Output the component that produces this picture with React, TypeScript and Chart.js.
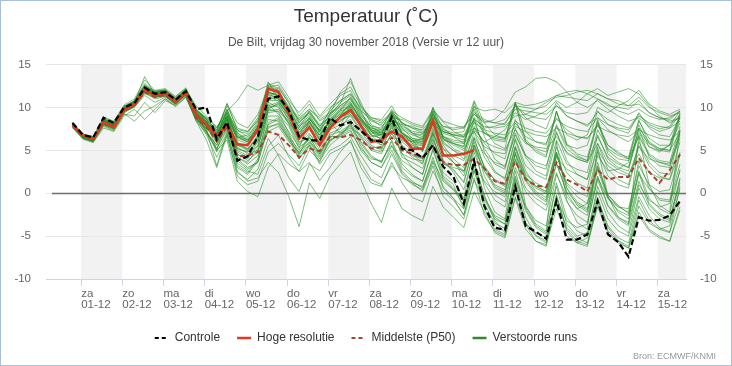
import React, { useEffect, useRef } from 'react';
import { Chart, registerables } from 'chart.js';

Chart.register(...registerables);

const TITLE = 'Temperatuur (˚C)';
const SUBTITLE = 'De Bilt, vrijdag 30 november 2018 (Versie vr 12 uur)';
const CREDIT = 'Bron: ECMWF/KNMI';

const DAY_NAMES = ['za', 'zo', 'ma', 'di', 'wo', 'do', 'vr', 'za', 'zo', 'ma', 'di', 'wo', 'do', 'vr', 'za'];
const DAY_DATES = ['01-12', '02-12', '03-12', '04-12', '05-12', '06-12', '07-12', '08-12', '09-12', '10-12', '11-12', '12-12', '13-12', '14-12', '15-12'];
const Y_MIN = -10;
const Y_MAX = 15;
const Y_STEP = 5;
// hours relative to 01-12 00:00 (local time); first run time and step
const FIRST_HOUR = -5;
const STEP_HOURS = 6;

const LEGEND_NAMES = ['Controle', 'Hoge resolutie', 'Middelste (P50)', 'Verstoorde runs'];

const CONTROL = [
  8.2, 6.8, 6.5, 8.8, 8.2, 10.0, 10.5, 12.3, 11.6, 11.8, 10.9, 11.9,
  9.8, 10.0, 6.3, 8.3, 3.8, 4.3, 6.6, 11.0,
  11.3, 9.7, 6.6, 6.2, 6.1, 8.8, 7.9, 8.3, 7.3, 6.2,
  6.0, 8.9, 5.2, 5.0, 4.1, 5.6, 3.1, 1.9, -1.2, 3.8,
  -1.5, -4.0, -4.3, 0.8, -3.8, -4.5, -5.3, -0.9, -5.4, -5.4,
  -4.8, -0.9, -4.8, -5.7, -7.4, -2.8, -3.2, -3.1, -2.6, -0.9,
];

const HRES = [
  7.9, 6.8, 6.3, 8.3, 7.7, 9.7, 10.4, 12.1, 11.4, 11.7, 10.7, 11.8,
  9.2, 8.0, 6.7, 8.0, 5.7, 5.6, 7.4, 12.2,
  11.8, 9.3, 6.4, 7.7, 5.6, 7.6, 8.9, 9.7, 7.9, 6.0,
  6.2, 7.2, 6.6, 5.2, 5.2, 8.5, 4.4, 4.4, 4.6, 5.0,
];

const P50 = [
  8.0, 6.6, 6.3, 8.2, 7.8, 9.8, 10.2, 11.8, 11.2, 11.5, 10.6, 11.6,
  8.8, 7.8, 6.0, 7.8, 4.3, 4.4, 4.8, 7.2,
  6.8, 5.6, 4.2, 5.2, 4.9, 6.6, 6.5, 6.8, 6.2, 5.2,
  5.4, 6.5, 5.0, 4.6, 4.2, 5.5, 3.6, 3.3, 3.3, 4.0,
  2.9, 1.4, 1.1, 3.7, 1.6, 0.9, 0.7, 3.6, 1.6, 1.0,
  0.2, 2.7, 1.6, 1.9, 1.9, 4.1, 2.5, 1.2, 2.7, 4.5,
];

const M01 = [8.1, 6.6, 6.2, 8.6, 8.0, 9.9, 10.6, 12.6, 11.8, 11.9, 11.0, 12.0, 9.5, 8.4, 6.0, 8.1, 4.5, 4.0, 5.5, 9.8, 10.5, 8.6, 6.0, 6.4, 5.5, 8.2, 7.0, 7.6, 6.8, 5.4, 5.2, 8.0, 4.2, 3.6, 2.9, 5.9, 2.0, 1.0, -1.8, 3.4, -1.2, -3.5, -4.1, 1.5, -2.8, -4.9, -5.6, -0.3, -4.5, -5.8, -5.2, -0.5, -4.0, -5.5, -6.2, -1.5, -3.5, -4.2, -3.8, 0.5];
const M02 = [7.8, 6.9, 6.5, 8.1, 7.6, 9.4, 10.1, 11.6, 11.2, 11.3, 10.4, 11.5, 8.8, 7.6, 6.5, 8.6, 6.5, 6.8, 8.0, 11.0, 12.4, 10.5, 8.2, 9.6, 8.0, 8.8, 10.2, 11.1, 9.0, 7.8, 7.6, 9.5, 8.3, 7.0, 6.6, 9.0, 7.2, 6.8, 6.5, 8.6, 7.0, 6.2, 6.0, 10.4, 8.8, 8.0, 7.5, 10.6, 9.0, 8.4, 7.8, 9.5, 8.6, 8.0, 7.6, 9.2, 8.0, 7.5, 7.8, 9.6];
const M03 = [8.3, 6.4, 6.0, 8.9, 8.4, 10.3, 11.0, 13.2, 12.0, 12.2, 11.3, 12.3, 9.8, 8.6, 5.0, 8.8, 3.5, 2.6, 2.2, 5.5, 6.8, 4.2, 2.5, 3.6, 1.5, 3.0, 4.8, 6.2, 3.0, 1.2, 0.8, 3.6, 1.2, -0.5, -1.0, 2.6, 0.2, -0.8, -2.5, 1.5, -0.8, -3.0, -3.6, 2.0, -2.0, -4.0, -4.8, 0.8, -3.6, -5.0, -4.6, 0.2, -3.0, -4.4, -5.0, -0.4, -2.6, -4.0, -4.5, -1.0];
const M04 = [7.6, 6.3, 5.9, 7.6, 7.2, 9.0, 9.8, 8.6, 9.8, 11.0, 10.1, 11.2, 8.6, 7.4, 4.8, 7.0, 3.0, 2.2, 3.8, 9.8, 9.5, 7.0, 4.6, 6.5, 4.6, 7.0, 7.5, 9.2, 8.0, 6.4, 6.0, 9.5, 7.0, 5.8, 5.5, 10.0, 6.4, 5.8, 5.5, 9.8, 6.6, 4.0, 3.0, 7.0, 4.2, 2.6, 2.0, 7.2, 3.8, 2.2, 1.6, 6.8, 4.0, 3.0, 2.6, 7.6, 6.0, 5.2, 5.0, 9.2];
const M05 = [8.0, 6.7, 6.4, 8.4, 7.9, 9.8, 10.5, 13.6, 11.5, 11.6, 10.6, 11.6, 9.2, 8.2, 7.2, 10.5, 7.4, 6.6, 8.3, 13.0, 11.0, 9.6, 8.0, 9.0, 7.2, 9.3, 10.4, 13.4, 10.2, 8.6, 7.8, 8.8, 8.6, 8.0, 7.6, 9.6, 8.3, 7.2, 6.6, 9.2, 8.2, 8.6, 9.8, 11.8, 12.4, 13.4, 13.5, 13.0, 11.8, 10.6, 10.0, 10.8, 9.8, 9.0, 8.4, 8.8, 7.8, 7.2, 7.6, 8.4];
const M06 = [7.7, 6.6, 6.1, 8.0, 7.5, 9.5, 10.2, 11.9, 11.3, 11.5, 10.5, 11.4, 8.4, 6.2, 3.0, 6.8, 2.0, 1.0, 1.4, 4.8, 5.8, 4.5, 3.2, 5.6, 4.0, 6.0, 7.0, 7.8, 5.5, 3.6, 3.0, 5.5, 3.8, 3.0, 2.2, 6.2, 3.5, 2.8, 1.2, 5.6, 3.2, 1.5, 0.8, 5.5, 2.0, 0.2, -0.5, 4.6, 0.6, -1.4, -2.2, 2.8, -0.6, -2.0, -2.6, 2.2, 0.5, -0.8, -1.0, 3.4];
const M07 = [8.2, 6.9, 6.6, 8.8, 8.2, 10.0, 10.8, 12.8, 11.9, 12.1, 11.0, 12.1, 10.2, 9.0, 7.6, 9.8, 6.0, 5.0, 6.8, 11.2, 10.8, 8.8, 7.0, 8.4, 6.8, 8.5, 9.6, 10.0, 7.6, 6.6, 6.8, 8.2, 5.6, 4.6, 3.5, 7.0, 3.8, 2.4, 0.4, 4.8, 1.2, -0.8, -1.6, 3.0, 0.2, -1.2, -2.0, 2.4, -1.0, -2.6, -3.4, 1.6, -1.5, -3.0, -3.8, 1.0, -0.8, -1.6, -1.2, 2.6];
const M08 = [7.9, 6.5, 6.2, 8.2, 7.7, 9.6, 10.0, 11.4, 10.6, 11.2, 10.4, 11.6, 9.0, 7.8, 6.8, 9.6, 10.8, 12.6, 12.0, 12.6, 13.0, 11.2, 9.0, 10.4, 8.4, 9.2, 11.8, 13.0, 10.6, 8.0, 7.4, 9.8, 7.6, 6.4, 6.0, 9.4, 6.6, 5.8, 5.4, 10.2, 7.0, 6.4, 6.2, 10.6, 7.2, 6.0, 5.6, 9.4, 6.8, 6.2, 6.8, 10.0, 9.4, 10.2, 10.8, 12.0, 10.4, 9.6, 9.2, 9.8];
const M09 = [8.0, 6.8, 6.4, 8.5, 8.0, 10.0, 10.4, 12.0, 11.6, 11.8, 10.8, 11.9, 9.6, 8.8, 7.8, 9.0, 5.4, 4.6, 5.0, 8.6, 8.4, 6.4, 4.6, 6.8, 6.0, 8.0, 8.4, 9.4, 8.8, 7.4, 7.0, 8.6, 8.0, 7.8, 7.2, 8.4, 7.6, 6.6, 5.8, 7.2, 5.4, 4.8, 4.6, 8.2, 6.6, 6.0, 5.8, 8.8, 7.4, 6.6, 6.4, 8.0, 5.6, 4.8, 4.0, 6.6, 4.4, 3.6, 3.2, 6.4];
const M10 = [8.1, 6.7, 6.3, 8.4, 7.8, 9.7, 10.3, 12.2, 11.5, 11.7, 10.8, 11.8, 9.0, 7.4, 3.2, 7.2, 2.6, 1.4, 1.8, 3.6, 2.4, -0.4, -3.9, 1.2, -0.6, 2.0, 3.4, 4.8, 1.6, -1.2, -3.4, 0.6, -1.8, -2.6, -3.2, 0.8, -1.6, -2.8, -4.0, 0.2, -2.2, -4.6, -5.2, -0.6, -4.2, -5.6, -6.0, -1.8, -5.0, -5.8, -6.2, -1.2, -4.4, -5.6, -6.4, -2.2, -4.2, -5.0, -5.6, -1.6];
const M11 = [7.8, 6.5, 6.1, 8.0, 7.6, 9.6, 10.2, 12.0, 11.2, 11.4, 10.4, 11.6, 9.0, 7.2, 5.6, 8.6, 5.8, 5.2, 6.4, 10.4, 9.2, 7.8, 5.2, 8.6, 7.4, 9.8, 11.4, 12.0, 9.6, 7.2, 6.2, 9.2, 7.0, 6.2, 4.8, 8.8, 5.6, 4.0, 3.0, 7.2, 4.2, 2.4, 1.8, 6.4, 3.2, 2.2, 1.6, 6.2, 3.4, 2.8, 2.4, 7.4, 5.2, 4.4, 4.0, 8.4, 6.4, 5.6, 5.6, 9.0];
const M12 = [8.2, 6.8, 6.3, 8.4, 7.9, 9.9, 10.6, 12.4, 11.7, 11.9, 10.9, 12.0, 9.4, 8.0, 6.6, 9.2, 6.8, 6.2, 7.6, 12.6, 12.0, 10.0, 7.6, 9.6, 7.8, 9.0, 10.6, 11.4, 9.4, 7.8, 7.0, 9.0, 7.2, 6.0, 6.4, 10.0, 7.4, 7.0, 7.2, 10.8, 8.2, 6.8, 6.4, 10.6, 6.2, 5.2, 4.8, 9.6, 5.8, 4.6, 4.2, 8.6, 5.0, 4.0, 3.8, 8.0, 5.4, 4.8, 5.6, 9.4];
const M13 = [7.9, 6.6, 6.2, 8.1, 7.7, 9.7, 10.3, 12.1, 11.4, 11.6, 10.6, 11.7, 8.8, 7.0, 5.2, 7.4, 4.2, 3.6, 5.2, 10.0, 10.2, 8.0, 5.6, 7.0, 5.0, 7.4, 8.0, 8.6, 6.6, 5.0, 4.6, 7.0, 4.6, 4.0, 3.8, 6.4, 3.4, 3.0, 2.6, 5.2, 2.6, 1.0, 0.4, 4.6, 1.8, 0.8, 0.2, 5.4, 2.4, 1.2, 0.6, 5.8, 2.8, 1.6, 1.0, 6.0, 3.6, 2.4, 2.2, 7.2];
const M14 = [8.0, 6.6, 6.3, 8.3, 7.8, 9.8, 10.4, 12.2, 11.4, 11.7, 10.7, 11.8, 9.2, 8.0, 6.2, 8.2, 4.8, 4.2, 6.0, 10.6, 10.0, 8.2, 5.8, 7.4, 5.8, 8.0, 8.6, 9.0, 7.2, 5.6, 5.0, 7.8, 4.6, 3.0, 2.2, 6.8, 2.4, 1.4, -0.6, 5.6, 0.6, -2.2, -3.0, 4.8, -1.4, -3.6, -4.4, 6.0, -0.8, -3.4, -4.2, 5.4, -0.4, -2.8, -3.6, 6.6, 1.0, -1.4, -2.2, 7.4];
const M15 = [7.9, 6.7, 6.4, 8.2, 7.7, 9.6, 10.3, 12.0, 11.5, 11.6, 10.7, 11.7, 9.0, 7.8, 7.0, 9.4, 7.2, 7.0, 8.6, 11.8, 11.4, 10.0, 8.6, 9.4, 7.6, 8.6, 9.8, 10.6, 8.6, 7.4, 7.2, 8.4, 7.0, 6.2, 5.8, 8.0, 6.4, 5.6, 5.0, 7.4, 6.0, 6.6, 7.4, 9.4, 8.6, 9.0, 9.6, 10.8, 10.0, 10.6, 11.6, 12.2, 11.4, 11.8, 12.2, 11.6, 10.2, 9.0, 8.2, 8.8];
const M16 = [8.1, 6.8, 6.4, 8.6, 8.1, 10.1, 10.7, 12.5, 11.6, 11.8, 10.9, 12.0, 9.8, 8.4, 6.0, 7.6, 3.2, 2.4, 4.0, 8.2, 8.8, 6.8, 4.0, 5.8, 3.6, 6.4, 7.8, 10.4, 8.8, 6.8, 5.6, 8.6, 6.2, 5.6, 5.0, 8.2, 5.2, 3.6, 2.0, 6.4, 3.0, 0.8, 0.2, 5.2, 1.6, 0.0, -0.8, 4.4, 1.2, 0.2, -0.4, 4.8, 2.0, 1.0, 0.6, 5.6, 3.2, 2.0, 1.6, 6.0];
const M17 = [7.7, 6.4, 6.0, 7.9, 7.4, 9.3, 8.4, 9.6, 10.2, 11.0, 10.3, 11.3, 8.6, 7.6, 6.4, 9.0, 6.6, 6.0, 7.8, 11.6, 11.0, 9.0, 6.8, 8.4, 6.4, 7.8, 9.0, 10.0, 8.0, 6.8, 6.4, 8.4, 6.0, 5.0, 4.0, 7.4, 4.6, 3.6, 2.6, 6.4, 3.0, 1.6, 1.0, 5.4, 2.2, 1.2, 0.6, 4.8, 1.0, -0.4, -1.2, 3.0, -0.2, -1.4, -2.4, 2.6, -0.6, -1.8, -2.4, 2.8];
const M18 = [8.0, 6.7, 6.3, 8.3, 7.8, 9.8, 10.4, 12.1, 11.4, 11.6, 10.7, 11.8, 9.1, 7.9, 6.8, 8.9, 6.2, 5.8, 7.2, 11.6, 11.6, 9.4, 7.4, 8.8, 6.6, 8.4, 9.6, 11.2, 9.2, 7.6, 7.2, 9.0, 7.6, 7.0, 6.8, 9.2, 7.8, 7.4, 7.6, 10.0, 9.6, 9.8, 9.4, 10.6, 10.2, 10.4, 10.8, 11.4, 11.8, 12.0, 11.6, 11.0, 10.4, 9.6, 9.2, 9.8, 9.0, 8.6, 8.8, 9.6];
const M19 = [8.2, 6.9, 6.5, 8.7, 8.1, 10.0, 10.6, 12.4, 11.7, 11.9, 10.9, 12.0, 9.4, 8.2, 6.4, 8.4, 5.0, 4.4, 5.6, 9.0, 9.0, 7.2, 5.4, 6.2, 4.4, 6.8, 7.2, 8.0, 5.8, 4.2, 3.6, 6.0, 3.0, 2.0, 1.4, 5.0, 1.6, 0.4, -1.4, 3.6, -0.4, -2.8, -3.6, 2.6, -1.8, -3.8, -4.6, 1.2, -2.8, -4.4, -5.0, 0.8, -2.2, -3.8, -4.6, 0.6, -1.8, -3.0, -3.4, 1.8];
const M20 = [7.8, 6.6, 6.2, 8.1, 7.6, 9.5, 10.2, 11.8, 11.2, 11.4, 10.5, 11.5, 8.8, 7.6, 6.2, 8.0, 5.6, 5.2, 6.6, 9.6, 9.8, 8.4, 6.8, 8.0, 6.8, 8.2, 8.8, 9.6, 8.2, 7.0, 6.8, 8.2, 6.6, 5.6, 5.0, 7.6, 5.2, 4.4, 3.8, 6.6, 4.6, 3.6, 3.2, 6.8, 4.4, 3.6, 3.2, 7.0, 4.6, 4.0, 3.6, 6.6, 4.2, 3.4, 3.0, 6.8, 4.6, 3.8, 3.6, 7.8];
const M21 = [8.0, 6.6, 6.2, 8.4, 7.9, 9.8, 10.4, 12.2, 11.5, 11.7, 10.7, 11.8, 9.6, 8.6, 7.0, 8.6, 4.2, 3.4, 4.4, 7.2, 7.8, 6.0, 4.8, 6.0, 4.8, 6.6, 6.6, 7.2, 5.2, 4.0, 3.8, 5.6, 2.6, 1.4, 0.6, 4.2, 0.8, -0.6, -2.6, 2.8, -1.8, -4.2, -4.8, 0.6, -3.4, -5.0, -5.8, -0.2, -4.2, -5.6, -6.0, -0.8, -3.8, -5.2, -5.8, -0.8, -3.2, -4.2, -4.6, 0.8];
const M22 = [7.9, 6.5, 6.1, 8.2, 7.7, 9.7, 10.3, 12.0, 11.3, 11.5, 10.6, 11.7, 9.0, 7.8, 6.6, 9.8, 7.0, 6.4, 8.0, 12.8, 12.2, 10.6, 8.4, 9.2, 7.2, 8.2, 9.2, 10.4, 8.6, 7.2, 6.6, 8.6, 6.8, 5.8, 5.0, 8.2, 5.8, 5.0, 4.0, 7.8, 5.8, 4.6, 4.0, 8.6, 6.0, 5.0, 4.4, 8.0, 5.6, 5.2, 5.6, 9.6, 8.0, 7.4, 7.0, 9.4, 7.6, 6.8, 6.6, 8.8];
const M23 = [8.1, 6.7, 6.3, 8.5, 8.0, 9.9, 10.5, 12.3, 11.6, 11.8, 10.8, 11.9, 9.2, 7.2, 5.0, 6.2, 1.4, 0.2, -0.4, 3.0, 4.6, 3.4, 2.6, 5.0, 3.8, 5.6, 6.6, 8.2, 6.4, 5.2, 4.8, 7.0, 5.4, 4.4, 4.0, 7.0, 4.6, 3.6, 2.4, 6.0, 2.0, -0.2, -1.0, 4.0, 0.6, -0.6, -1.4, 3.4, 0.2, -1.2, -2.0, 3.2, -0.2, -1.6, -2.2, 3.8, 0.6, -0.6, -0.8, 4.6];
const M24 = [8.0, 6.8, 6.5, 8.4, 7.9, 9.8, 10.4, 12.2, 11.5, 11.7, 10.7, 11.8, 9.3, 8.2, 7.4, 10.2, 7.6, 7.2, 8.8, 12.4, 12.0, 9.8, 8.2, 9.4, 7.8, 9.6, 10.8, 11.6, 9.8, 8.4, 8.0, 9.6, 8.8, 8.2, 7.8, 9.8, 8.4, 8.0, 7.6, 9.4, 8.6, 8.2, 8.0, 10.2, 9.2, 8.8, 8.6, 10.2, 9.4, 9.2, 9.4, 11.0, 10.2, 10.0, 9.8, 10.8, 9.4, 8.8, 8.6, 9.6];
const M25 = [8.0, 6.7, 6.2, 8.3, 7.9, 9.9, 10.6, 12.4, 11.8, 12.0, 11.2, 12.2, 9.6, 8.6, 7.4, 9.4, 7.0, 6.2, 7.0, 10.2, 10.6, 9.2, 7.8, 8.6, 7.4, 8.2, 8.8, 9.4, 8.4, 7.6, 7.4, 8.6, 7.8, 7.2, 7.0, 8.0, 7.2, 6.8, 6.6, 7.6, 7.0, 6.6, 6.4, 7.8, 7.2, 6.8, 6.6, 7.6, 7.0, 6.6, 6.4, 7.8, 7.2, 6.8, 6.6, 7.4, 6.8, 6.4, 6.2, 7.2];
const M26 = [7.8, 6.5, 6.0, 8.0, 7.5, 9.4, 10.1, 11.7, 11.0, 11.3, 10.4, 11.5, 8.8, 7.2, 5.2, 7.6, 3.8, 2.8, 3.6, 7.6, 8.2, 6.2, 4.0, 5.6, 3.4, 5.0, 5.6, 6.6, 4.4, 2.6, 1.8, 4.6, 2.2, 1.0, 0.4, 3.6, 0.6, -0.6, -1.8, 2.6, -0.6, -2.6, -3.2, 1.8, -1.6, -3.2, -3.8, 2.2, -0.4, -1.8, -1.2, 4.4, 2.6, 2.8, 3.6, 7.0, 5.4, 5.0, 5.6, 8.2];
const M27 = [8.2, 6.8, 6.4, 8.6, 8.1, 10.1, 10.8, 12.6, 11.9, 12.0, 11.1, 12.1, 9.8, 8.8, 7.2, 10.4, 8.2, 7.6, 9.2, 12.4, 12.6, 10.8, 9.4, 10.8, 9.0, 10.4, 11.6, 12.4, 10.2, 8.8, 8.6, 10.2, 8.0, 7.0, 6.2, 9.4, 6.4, 5.2, 4.6, 8.8, 4.8, 2.6, 1.6, 6.2, 2.6, 0.8, 0.2, 4.8, 0.6, -1.0, -1.8, 3.6, -0.4, -2.2, -3.0, 2.4, -1.2, -2.4, -3.0, 1.6];
const M28 = [7.9, 6.6, 6.2, 8.2, 7.7, 9.7, 10.2, 11.9, 11.3, 11.5, 10.5, 11.6, 8.6, 6.8, 4.2, 6.6, 2.4, 1.6, 2.8, 6.4, 4.4, 1.8, 0.2, 3.4, 2.6, 4.6, 5.2, 6.0, 3.6, 1.6, 1.0, 3.2, 1.8, 1.2, 0.8, 3.8, 1.4, 0.4, -0.8, 3.2, 1.4, 0.2, -0.4, 3.8, 1.8, 0.6, 0.0, 4.2, 2.8, 2.2, 1.6, 5.0, 3.2, 2.4, 2.0, 5.4, 4.0, 3.6, 3.4, 6.8];
const M29 = [8.1, 6.8, 6.4, 8.5, 8.0, 10.0, 10.7, 12.4, 11.7, 11.8, 10.9, 12.0, 9.4, 8.4, 7.6, 9.6, 7.4, 7.2, 8.4, 11.4, 11.2, 9.8, 8.6, 9.8, 8.6, 9.4, 10.0, 10.8, 9.6, 8.6, 8.2, 9.2, 8.2, 7.6, 7.4, 8.8, 7.8, 7.6, 7.8, 9.2, 8.4, 8.2, 8.6, 10.2, 10.0, 9.8, 10.2, 11.4, 11.2, 11.0, 10.8, 11.6, 11.0, 10.4, 10.2, 11.2, 10.0, 9.4, 9.0, 9.4];
const M30 = [7.7, 6.4, 6.1, 7.8, 7.3, 9.2, 9.0, 10.6, 9.4, 10.8, 10.2, 11.2, 8.4, 7.0, 5.6, 7.8, 5.2, 4.8, 6.2, 10.0, 10.4, 8.6, 6.2, 7.8, 6.2, 8.6, 9.8, 10.2, 8.0, 6.2, 5.6, 8.2, 5.4, 4.2, 3.4, 7.2, 3.8, 2.6, 1.4, 5.6, 2.6, 0.6, 0.0, 4.6, 1.4, -0.2, -1.0, 3.6, 0.0, -1.8, -2.6, 2.0, -1.4, -2.8, -3.4, 1.4, -1.4, -2.6, -3.2, 1.2];
const M31 = [8.0, 6.6, 6.3, 8.4, 7.8, 9.8, 10.5, 12.2, 11.6, 11.7, 10.8, 11.8, 9.3, 8.1, 6.9, 9.1, 6.4, 6.0, 7.8, 12.0, 11.8, 10.2, 8.8, 9.8, 8.8, 10.0, 10.8, 11.6, 10.0, 8.8, 8.4, 9.4, 8.2, 7.6, 7.0, 8.6, 7.2, 6.8, 6.8, 8.6, 7.8, 7.6, 7.8, 9.0, 9.2, 9.8, 10.6, 11.2, 11.4, 11.8, 12.0, 11.6, 11.0, 10.8, 10.2, 10.4, 9.4, 8.8, 8.4, 8.8];
const M32 = [8.2, 6.9, 6.6, 8.7, 8.2, 10.2, 10.7, 12.5, 11.8, 12.0, 11.0, 12.1, 9.7, 8.7, 6.8, 8.8, 4.6, 3.8, 4.8, 8.0, 8.6, 6.6, 5.0, 6.6, 4.6, 6.2, 6.8, 7.4, 5.0, 3.6, 3.0, 5.0, 2.4, 1.2, 0.2, 3.2, -0.4, -1.6, -3.0, 1.8, -2.6, -4.4, -5.0, -0.4, -3.6, -4.6, -5.2, -1.0, -4.0, -5.2, -5.8, -1.6, -4.6, -5.8, -6.4, -2.6, -4.4, -5.2, -5.6, -2.0];
const M33 = [7.9, 6.6, 6.3, 8.3, 7.8, 9.7, 10.4, 12.1, 11.5, 11.6, 10.7, 11.7, 9.1, 7.9, 6.5, 8.5, 5.8, 5.6, 7.2, 11.2, 11.0, 9.4, 7.4, 8.4, 6.2, 7.6, 8.4, 9.2, 7.4, 6.2, 6.0, 7.6, 6.4, 6.0, 5.8, 7.8, 6.2, 5.8, 5.2, 7.6, 6.0, 5.4, 5.0, 7.4, 5.8, 5.4, 5.2, 6.6, 4.8, 4.0, 3.6, 5.8, 3.6, 2.8, 2.2, 4.6, 2.4, 1.8, 1.6, 4.8];
const M34 = [8.1, 6.7, 6.2, 8.4, 7.9, 9.9, 10.5, 12.3, 11.6, 11.7, 10.8, 11.9, 9.4, 8.2, 6.9, 8.7, 5.6, 5.0, 6.6, 10.8, 10.8, 9.0, 7.2, 8.2, 6.2, 8.0, 9.0, 10.6, 8.4, 6.8, 6.4, 8.8, 6.8, 6.0, 5.6, 9.2, 6.0, 5.0, 4.4, 8.4, 5.2, 3.4, 2.8, 7.6, 4.4, 3.2, 2.8, 7.8, 5.2, 4.2, 3.8, 8.2, 5.6, 4.6, 4.2, 8.6, 5.8, 5.0, 4.8, 8.8];
const M35 = [8.0, 6.6, 6.2, 8.5, 8.0, 9.9, 10.5, 12.2, 11.5, 11.7, 10.8, 11.8, 9.4, 8.4, 6.6, 8.0, 4.0, 3.0, 3.6, 7.8, 8.0, 6.4, 4.4, 6.0, 4.2, 6.2, 6.8, 8.0, 6.0, 4.4, 3.6, 6.2, 3.4, 2.2, 1.4, 5.2, 1.8, 0.6, -1.0, 3.6, -0.2, -3.2, -4.6, 0.8, -3.6, -5.6, -6.2, -0.6, -3.2, -4.0, -3.6, 1.8, -0.6, -1.6, -1.8, 3.2, 1.0, 0.2, 0.4, 4.6];
const M36 = [7.8, 6.5, 6.1, 8.1, 7.6, 9.6, 10.2, 11.9, 11.3, 11.5, 10.6, 11.6, 9.0, 7.6, 6.0, 8.0, 5.2, 4.8, 6.0, 9.4, 9.6, 8.2, 6.6, 8.2, 6.8, 8.4, 9.2, 9.8, 8.4, 7.2, 7.0, 8.8, 7.4, 6.8, 6.4, 8.6, 7.0, 6.6, 6.2, 8.2, 7.4, 7.0, 6.8, 8.4, 7.6, 7.2, 7.0, 8.6, 7.8, 7.4, 7.2, 8.8, 8.0, 7.6, 7.4, 9.0, 8.2, 7.8, 7.6, 9.2];
const M37 = [8.1, 6.8, 6.5, 8.6, 8.1, 10.0, 10.6, 12.4, 11.7, 11.9, 10.9, 12.0, 9.5, 8.3, 7.0, 9.4, 6.6, 6.0, 7.6, 11.8, 11.2, 9.2, 7.0, 8.8, 7.2, 9.2, 10.2, 11.0, 8.8, 7.4, 6.8, 9.4, 7.0, 6.2, 6.0, 9.6, 6.6, 6.0, 5.8, 10.6, 7.4, 5.8, 5.2, 10.4, 6.0, 4.8, 4.2, 9.6, 5.6, 4.4, 3.8, 8.4, 4.6, 3.6, 3.0, 7.6, 4.2, 3.2, 3.0, 7.4];
const M38 = [7.9, 6.7, 6.3, 8.2, 7.7, 9.6, 10.3, 12.0, 11.4, 11.6, 10.6, 11.7, 9.0, 7.9, 6.7, 9.0, 6.6, 6.2, 7.8, 11.8, 11.4, 9.6, 7.8, 8.8, 7.0, 8.4, 9.4, 10.2, 8.6, 7.2, 6.8, 8.2, 7.0, 6.4, 6.2, 8.4, 6.6, 6.2, 6.0, 8.8, 7.6, 7.8, 8.2, 9.8, 9.6, 9.4, 9.2, 10.2, 9.0, 8.4, 8.0, 8.8, 7.4, 6.6, 6.0, 7.2, 5.8, 5.2, 5.0, 7.0];

const MEMBERS = [M01, M02, M03, M04, M05, M06, M07, M08, M09, M10, M11, M12, M13, M14, M15, M16, M17, M18, M19, M20, M21, M22, M23, M24, M25, M26, M27, M28, M29, M30, M31, M32, M33, M34, M35, M36, M37, M38];

const FONT = '"Liberation Sans", Arial, sans-serif';

const COLORS = {
  control: '#000000',
  hres: '#dc3a22',
  p50: '#a64434',
  member: 'rgba(36, 142, 36, 0.58)',
  memberLegend: '#2e8b2e',
  band: '#f2f2f2',
  grid: '#e6e6e6',
  axis: '#ccd6eb',
  zero: '#6e6e6e',
  text: '#666666',
  title: '#333333',
  frame: '#a9c0da',
};

const timeOf = (i: number) => FIRST_HOUR + STEP_HOURS * i;
const toPoints = (arr: number[]) => arr.map((v, i) => ({ x: timeOf(i), y: v }));

const bandsPlugin = {
  id: 'dayBands',
  beforeDraw(chart: any) {
    const { ctx, chartArea, scales } = chart;
    const xs = scales.x;
    ctx.save();
    ctx.fillStyle = COLORS.band;
    for (let d = 0; d < DAY_DATES.length; d += 2) {
      const x0 = Math.max(xs.getPixelForValue(d * 24), chartArea.left);
      const x1 = Math.min(xs.getPixelForValue((d + 1) * 24), chartArea.right);
      if (x1 > x0) ctx.fillRect(x0, chartArea.top, x1 - x0, chartArea.bottom - chartArea.top);
    }
    ctx.restore();
  },
  beforeDatasetsDraw(chart: any) {
    const { ctx, chartArea, scales } = chart;
    const y0 = Math.round(scales.y.getPixelForValue(0)) + 0.5;
    ctx.save();
    ctx.strokeStyle = COLORS.zero;
    ctx.lineWidth = 1.5;
    ctx.beginPath();
    ctx.moveTo(chartArea.left + 6, y0);
    ctx.lineTo(chartArea.right, y0);
    ctx.stroke();
    ctx.restore();
  },
  afterDraw(chart: any) {
    const { ctx, width, height } = chart;
    ctx.save();
    ctx.font = `9px ${FONT}`;
    ctx.fillStyle = '#999999';
    ctx.textAlign = 'right';
    ctx.textBaseline = 'middle';
    ctx.fillText(CREDIT, width - 16, height - 9);
    ctx.strokeStyle = COLORS.frame;
    ctx.lineWidth = 1;
    ctx.strokeRect(0.5, 0.5, width - 1, height - 1);
    ctx.restore();
  },
};

export default function App() {
  const ref = useRef<HTMLCanvasElement | null>(null);

  useEffect(() => {
    document.body.style.margin = '0';
    const canvas = ref.current;
    if (!canvas) return;

    const datasets: any[] = [
      {
        label: LEGEND_NAMES[0],
        data: toPoints(CONTROL),
        borderColor: COLORS.control,
        borderWidth: 2.2,
        borderDash: [6, 3],
      },
      {
        label: LEGEND_NAMES[1],
        data: toPoints(HRES),
        borderColor: COLORS.hres,
        borderWidth: 2.6,
      },
      {
        label: LEGEND_NAMES[2],
        data: toPoints(P50),
        borderColor: COLORS.p50,
        borderWidth: 2,
        borderDash: [5, 3],
      },
      ...MEMBERS.map((m, k) => ({
        label: `${LEGEND_NAMES[3]} ${k + 1}`,
        data: toPoints(m),
        borderColor: COLORS.member,
        borderWidth: 1,
      })),
    ];

    const chart = new Chart(canvas, {
      type: 'line',
      data: { datasets },
      plugins: [bandsPlugin],
      options: {
        animation: false,
        responsive: false,
        devicePixelRatio: 1,
        layout: { padding: { top: 0, left: 0, right: 0, bottom: 12 } },
        elements: {
          point: { radius: 0, hoverRadius: 0 },
          line: { tension: 0, fill: false },
        },
        font: { family: FONT, size: 12 },
        plugins: {
          tooltip: { enabled: false },
          title: {
            display: true,
            text: TITLE,
            color: COLORS.title,
            font: { size: 19, weight: 'normal', family: FONT },
            padding: { top: 5.6, bottom: 0 },
          },
          subtitle: {
            display: true,
            text: SUBTITLE,
            color: '#555555',
            font: { size: 12, family: FONT },
            padding: { top: 7.4, bottom: 14.4 },
          },
          legend: {
            position: 'bottom',
            labels: {
              usePointStyle: true,
              pointStyleWidth: 14,
              padding: 17,
              color: '#333333',
              font: { size: 12, family: FONT },
              generateLabels: () => [
                { text: LEGEND_NAMES[0], strokeStyle: COLORS.control, fillStyle: COLORS.control, lineWidth: 2, lineDash: [4, 3], pointStyle: 'line', hidden: false, datasetIndex: 0, fontColor: '#333333' },
                { text: LEGEND_NAMES[1], strokeStyle: COLORS.hres, fillStyle: COLORS.hres, lineWidth: 2.5, lineDash: [], pointStyle: 'line', hidden: false, datasetIndex: 1, fontColor: '#333333' },
                { text: LEGEND_NAMES[2], strokeStyle: COLORS.p50, fillStyle: COLORS.p50, lineWidth: 2, lineDash: [4, 3], pointStyle: 'line', hidden: false, datasetIndex: 2, fontColor: '#333333' },
                { text: LEGEND_NAMES[3], strokeStyle: COLORS.memberLegend, fillStyle: COLORS.memberLegend, lineWidth: 2.5, lineDash: [], pointStyle: 'line', hidden: false, datasetIndex: 3, fontColor: '#333333' },
              ],
            },
          },
        },
        scales: {
          x: {
            type: 'linear',
            min: -20.5,
            max: 352.5,
            afterBuildTicks: (scale: any) => {
              scale.ticks = DAY_DATES.map((_, d) => ({ value: d * 24 }));
            },
            afterFit: (scale: any) => {
              scale.height = 36;
              scale._computeLabelArea = () => undefined;
            },
            grid: { drawOnChartArea: false, drawTicks: true, tickLength: 7, color: COLORS.axis },
            border: { color: COLORS.axis },
            ticks: {
              autoSkip: false,
              maxRotation: 0,
              align: 'start',
              padding: 2,
              color: COLORS.text,
              font: { size: 11.5, lineHeight: 1.0 },
              callback: (_v: any, i: number) => [DAY_NAMES[i], DAY_DATES[i]],
            },
          },
          y: {
            position: 'left',
            min: Y_MIN,
            max: Y_MAX,
            afterFit: (scale: any) => {
              scale.width = 46;
            },
            grid: {
              drawTicks: false,
              color: (c: any) => (c.tick && c.tick.value === Y_MIN ? COLORS.axis : COLORS.grid),
            },
            border: { display: false },
            ticks: { stepSize: Y_STEP, padding: 15, color: COLORS.text, font: { size: 11.5 } },
          },
          y2: {
            position: 'right',
            min: Y_MIN,
            max: Y_MAX,
            afterFit: (scale: any) => {
              scale.width = 46;
            },
            grid: { display: false, drawTicks: false },
            border: { display: false },
            ticks: { stepSize: Y_STEP, padding: 14, color: COLORS.text, font: { size: 11.5 } },
          },
        },
      },
    } as any);

    return () => chart.destroy();
  }, []);

  return (
    <div style={{ width: 732, height: 366, background: '#ffffff' }}>
      <canvas ref={ref} width={732} height={366} style={{ display: 'block' }} />
    </div>
  );
}
